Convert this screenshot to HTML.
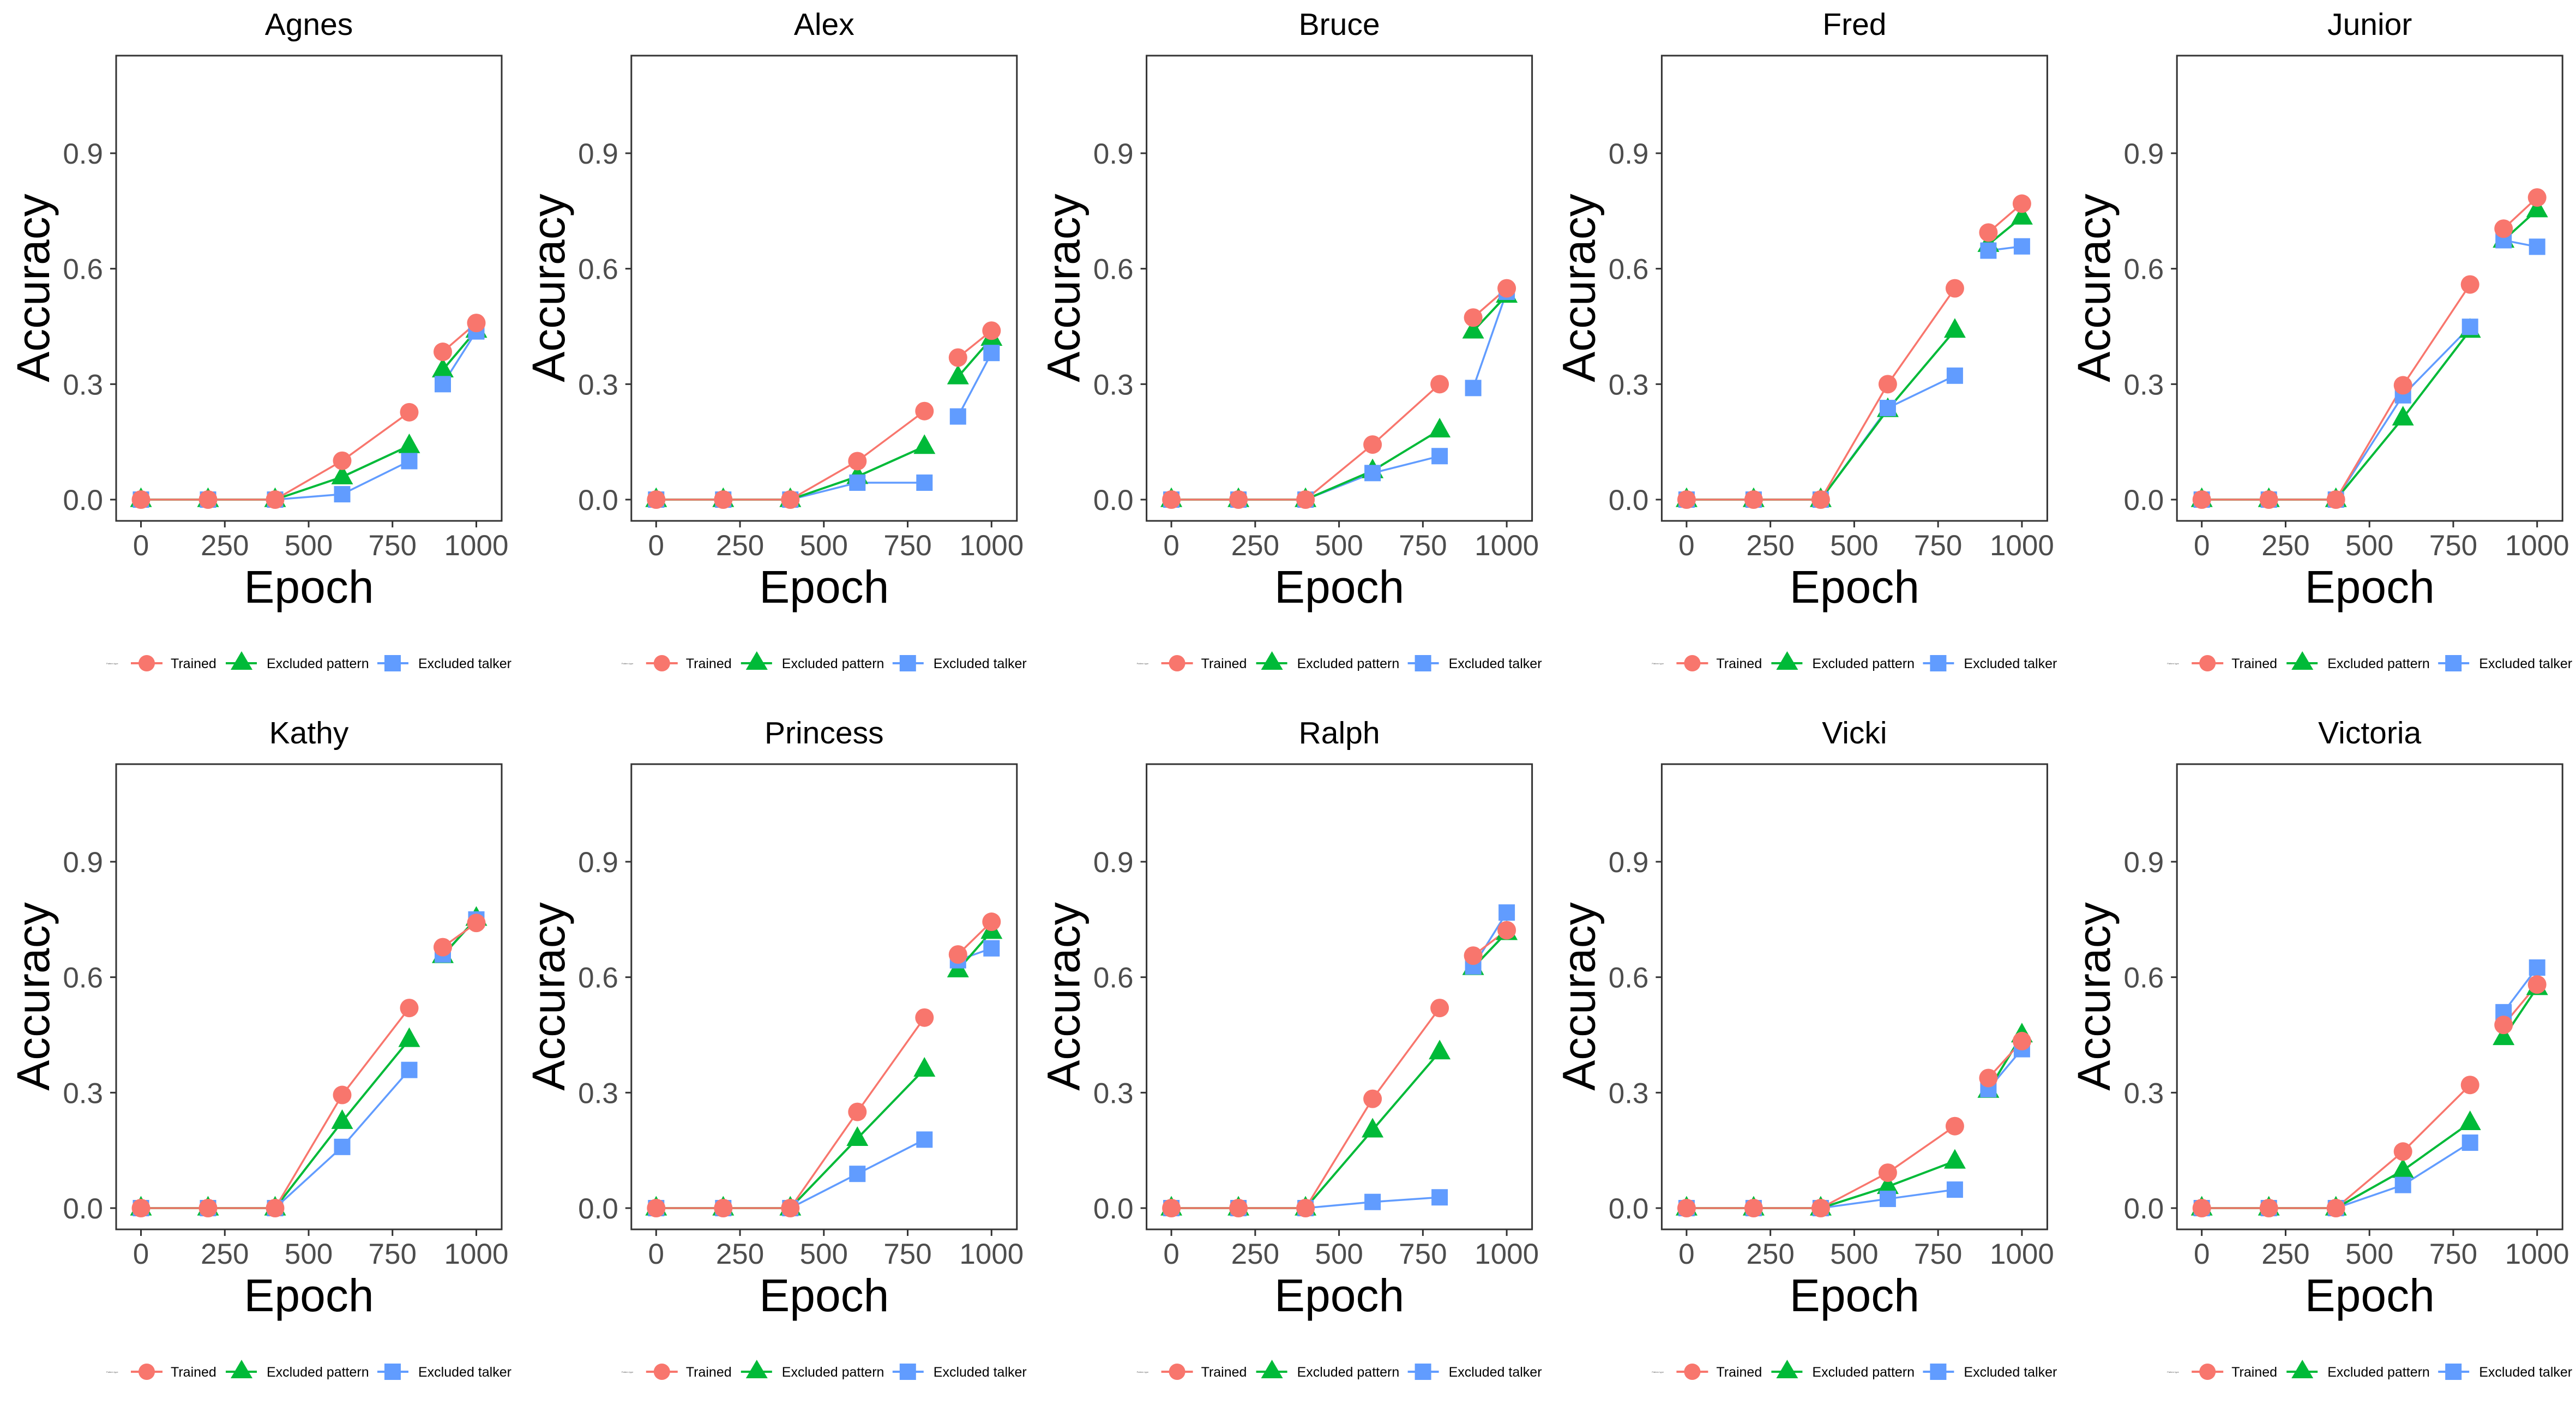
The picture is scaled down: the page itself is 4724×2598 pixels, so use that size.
<!DOCTYPE html>
<html><head><meta charset="utf-8">
<style>
html,body{margin:0;padding:0;background:#fff;}
svg{display:block;font-family:"Liberation Sans",Arial,sans-serif;}
</style></head>
<body>
<svg id="chart" xmlns="http://www.w3.org/2000/svg" width="4724" height="2598" viewBox="0 0 4724 2598">
<rect width="4724" height="2598" fill="#fff"/>
</svg>
<script>
const speakers = ["Agnes","Alex","Bruce","Fred","Junior","Kathy","Princess","Ralph","Vicki","Victoria"];
const epochs = [0,200,400,600,800,900,1000];
const lineGroups = [[0,1,2,3,4],[5,6]];
const xTicks = [0,250,500,750,1000];
const yTicks = [0.0,0.3,0.6,0.9];
const yTickLabels = ["0.0","0.3","0.6","0.9"];
const seriesNames = ["Trained","Excluded pattern","Excluded talker"];
const trained = [
 [0,0,0,0.101,0.227,0.384,0.459],
 [0,0,0,0.100,0.230,0.369,0.439],
 [0,0,0,0.143,0.300,0.473,0.549],
 [0,0,0,0.300,0.549,0.694,0.769],
 [0,0,0,0.297,0.559,0.704,0.785],
 [0,0,0,0.294,0.520,0.678,0.741],
 [0,0,0,0.250,0.495,0.659,0.744],
 [0,0,0,0.284,0.520,0.656,0.722],
 [0,0,0,0.092,0.213,0.338,0.434],
 [0,0,0,0.147,0.320,0.476,0.581]
];
const excludedPattern = [
 [0,0,0,0.059,0.140,0.337,0.440],
 [0,0,0,0.060,0.138,0.319,0.419],
 [0,0,0,0.075,0.181,0.438,0.531],
 [0,0,0,0.234,0.440,0.663,0.734],
 [0,0,0,0.212,0.440,0.674,0.753],
 [0,0,0,0.225,0.438,0.656,0.753],
 [0,0,0,0.181,0.361,0.619,0.719],
 [0,0,0,0.203,0.406,0.625,0.716],
 [0,0,0,0.056,0.122,0.306,0.450],
 [0,0,0,0.098,0.222,0.443,0.573]
];
const excludedTalker = [
 [0,0,0,0.014,0.100,0.300,0.437],
 [0,0,0,0.044,0.044,0.216,0.381],
 [0,0,0,0.069,0.113,0.290,0.540],
 [0,0,0,0.238,0.322,0.647,0.658],
 [0,0,0,0.271,0.449,0.674,0.657],
 [0,0,0,0.159,0.359,0.659,0.750],
 [0,0,0,0.089,0.178,0.644,0.675],
 [0,0,0,0.016,0.028,0.628,0.768],
 [0,0,0,0.024,0.048,0.309,0.413],
 [0,0,0,0.060,0.170,0.509,0.625]
];

const NS="http://www.w3.org/2000/svg";
const svg=document.getElementById('chart');
const colors=["#F8766D","#00BA38","#619CFF"];
const allSeries=[trained,excludedPattern,excludedTalker];
const BOX={l:213,r:920,t:102,b:955};
const X0=258.5, XS=0.615;
const Y0=916, YS=705.6;
function xs(e){return X0+e*XS;}
function ys(v){return Y0-v*YS;}
function mk(tag,attrs,parent){const el=document.createElementNS(NS,tag);for(const k in attrs)el.setAttribute(k,attrs[k]);(parent||svg).appendChild(el);return el;}
function txt(str,attrs,parent){const t=mk('text',attrs,parent);t.textContent=str;return t;}

function marker(si,cx,cy,g){
  let m;
  if(si===0){m=mk('circle',{cx:cx,cy:cy,r:17,fill:colors[0]},g);}
  else if(si===1){const h=36,w=40;m=mk('polygon',{points:`${cx},${cy-h*0.62} ${cx-w/2},${cy+h*0.38} ${cx+w/2},${cy+h*0.38}`,fill:colors[1]},g);}
  else {m=mk('rect',{x:cx-15,y:cy-15,width:30,height:30,fill:colors[2]},g);}
  return m;
}

speakers.forEach((name,p)=>{
  const c=p%5, r=Math.floor(p/5);
  const ox=c*944.8, oy=r*1299;
  const g=mk('g',{transform:`translate(${ox},${oy})`});
  
  
  const title=txt(name,{x:566.5,y:64,'font-size':57,'text-anchor':'middle',fill:'#000'},g);
  
  
  const box=mk('rect',{x:BOX.l,y:BOX.t,width:BOX.r-BOX.l,height:BOX.b-BOX.t,fill:'none',stroke:'#333',"stroke-width":3},g);
  
  
  yTicks.forEach((v,i)=>{
    const y=ys(v);
    const tk=mk('line',{x1:BOX.l-11,x2:BOX.l,y1:y,y2:y,stroke:'#333','stroke-width':3},g);
    
    
    const tl=txt(yTickLabels[i],{x:189,y:y+19,'font-size':53,'text-anchor':'end',fill:'#4d4d4d'},g);
    
    
  });
  xTicks.forEach(v=>{
    const x=xs(v);
    const tk=mk('line',{x1:x,x2:x,y1:BOX.b,y2:BOX.b+12,stroke:'#333','stroke-width':3},g);
    
    
    const tl=txt(String(v),{x:x,y:1018,'font-size':53,'text-anchor':'middle',fill:'#4d4d4d'},g);
    
    
  });
  const xt=txt('Epoch',{x:566.5,y:1105,'font-size':84,'text-anchor':'middle',fill:'#000'},g);
  
  
  const yt=txt('Accuracy',{x:0,y:0,'font-size':84,'text-anchor':'middle',fill:'#000',transform:'translate(90,528) rotate(-90)'},g);
  
  
  [2,1,0].forEach(si=>{
    const vals=allSeries[si][p];
    lineGroups.forEach(grp=>{
      const pts=grp.map(i=>xs(epochs[i])+','+ys(vals[i])).join(' ');
      const pl=mk('polyline',{points:pts,fill:'none',stroke:colors[si],'stroke-width':si===1?4:3.5},g);
      
      
    });
  });
  [1,2,0].forEach(si=>{
    const vals=allSeries[si][p];
    epochs.forEach((e,i)=>{
      const m=marker(si,xs(e),ys(vals[i]),g);
      
      
    });
  });
  const lg=mk('g',{},g);
  
  
  const lt=txt('Pattern type',{x:195,y:1218,'font-size':4,fill:'#555'},lg);
  
  
  const ly=1216;
  const items=[[240,298,269,313],[414,471,443,489],[692,749,720,767]];
  items.forEach((it,si)=>{
    const e=mk('g',{},lg);
    
    
    mk('line',{x1:it[0],x2:it[1],y1:ly,y2:ly,stroke:colors[si],'stroke-width':4},e);
    if(si===0)mk('circle',{cx:it[2],cy:ly,r:15,fill:colors[0]},e);
    else if(si===1)mk('polygon',{points:`${it[2]},${ly-22} ${it[2]-20},${ly+12} ${it[2]+20},${ly+12}`,fill:colors[1]},e);
    else mk('rect',{x:it[2]-15,y:ly-15,width:30,height:30,fill:colors[2]},e);
    txt(seriesNames[si],{x:it[3],y:ly+9,'font-size':25,fill:'#000'},e);
  });
});
</script>
</body></html>
